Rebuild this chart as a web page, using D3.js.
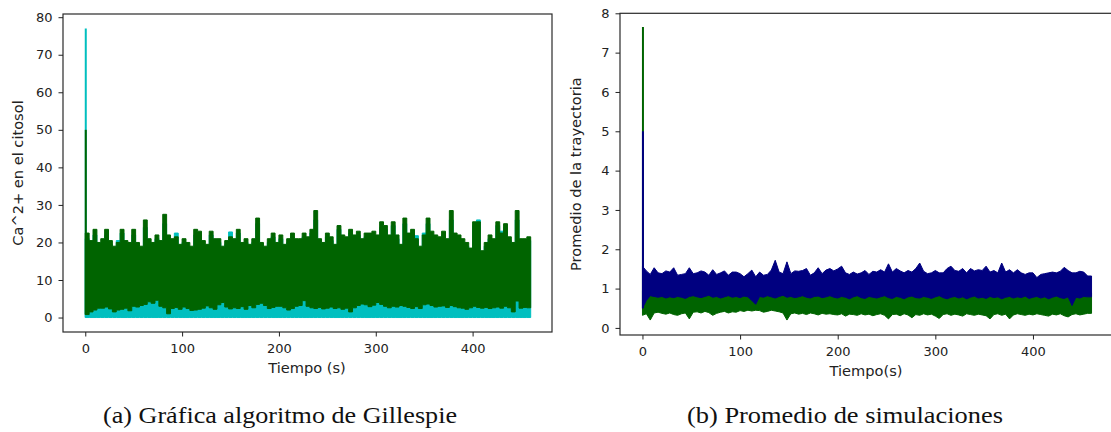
<!DOCTYPE html>
<html>
<head>
<meta charset="utf-8">
<script src="https://cdn.jsdelivr.net/npm/d3@7"></script>
<style>
  body { margin: 0; background: #fff; }
  svg { display: block; }
  .tick text { font-family: "DejaVu Sans", sans-serif; font-size: 13px; fill: #222; }
  .tick line { stroke: #222; }
  .lbl { font-family: "DejaVu Sans", sans-serif; font-size: 14.6px; fill: #222; }
  .cap { font-family: "Liberation Serif", serif; font-size: 23px; fill: #111; }
</style>
</head>
<body>
<svg width="1111" height="432"></svg>
<script>
const binStep = 4
const tEnd = 460

// (a) Gillespie: top / bottom of the dark green trace, top of the cyan trace
const gilGreenHi = [22.5,20.5,23.5,20,21,23.5,20.5,19,20,23.5,
  20.5,20,23.5,20,19,26,21,20,22,20.5,
  27.5,22,21,21.5,19.5,21,20,19,23.5,23,
  20.5,19.5,23,21,21,19,20.5,21.5,21,23.5,
  20,21,19.5,21,26.5,20,19,21,22.5,20,
  22,19.5,21,22.5,21,21,22.5,21.5,23.5,28.5,
  21,20,22.5,21.5,19.5,24.5,22,21.5,23.5,22,
  23,21,22.5,22.5,23,22,25.5,24.5,22,25.5,
  22,19.5,26.5,22.5,23.5,21,19,22,26.5,23,
  22,21.5,23,21,28.5,22.5,22,21,20,18.5,
  25.5,25.5,17.8,20,22,21,25.5,22.5,25,21.5,
  20,28.5,21,21,21.5]
const gilGreenLo = [0.8,1.5,2,2.5,2.5,2.8,2.3,1.5,2,2.2,
  2.5,1.8,3,2.8,3.2,3.5,4.2,3.8,4.6,3,
  2.6,1,2.4,2.7,2.2,2.8,2.4,1.9,2,2.2,
  2.5,3.1,2.6,2.2,3.4,4,2.8,2.3,2.6,2.4,
  2.9,2.2,3.2,2.6,3.5,3.8,3.2,2.4,2.7,3,
  3,2.6,2,2.4,3,3.2,4.5,3,2.6,2.4,
  2.7,2.3,2.5,2.8,2.4,2.6,2.2,2.5,1.5,2.6,
  3.2,3.6,3.4,2.9,3.3,4,3.5,3,2.6,3,
  2.8,3.2,3,2.7,2.4,2.9,2.4,3.4,3.6,3.2,
  2.8,3,3.1,2.7,3.2,2.9,2.6,2.5,2.2,2.6,
  3,2.7,2.5,2.7,2.4,2.6,2.8,2.5,3,2.6,
  1.5,4.4,2.5,2.7,2.6]
const gilCyanHi = [21,19.5,22,19,20,22,19.5,18,20.5,22.5,
  19.5,19,22,19,18,24,20,19,21,19.5,
  25,21,20,22.5,18.5,20,19,18,22,22,
  19.5,18.5,22,20,20,18,19.5,22.8,20,22.5,
  19,20,18.5,20,25,19,18,20,21.5,19,
  21,18.5,20,21.5,20,20,21.5,20.5,22.5,26,
  20,19,21.5,20.5,18.5,23.5,21,20.5,22.5,21,
  22,20,21.5,21.5,22,21,24,23.5,21,24.5,
  21,18.5,25,21.5,22.5,21.8,18,22.5,25,22,
  21,20.5,22,20,26,21.5,21,20,19,17.5,
  24.5,26,17,19,21,20,24.5,23,24,20.5,
  19,26,20,20,20.5]
const gilCyanLo = 0
// first instant: transient peaks
const gilPeaks = { cyan: 77, green: 50 }

// (b) mean of simulations: navy band and green band
const avgBlueHi = [1.57,1.45,1.36,1.53,1.4,1.38,1.45,1.42,1.53,1.34,
  1.36,1.38,1.53,1.38,1.4,1.45,1.42,1.34,1.48,1.36,
  1.4,1.45,1.34,1.42,1.42,1.38,1.3,1.38,1.47,1.3,
  1.42,1.34,1.36,1.47,1.72,1.42,1.38,1.68,1.38,1.45,
  1.44,1.46,1.51,1.34,1.4,1.53,1.38,1.47,1.51,1.45,
  1.5,1.57,1.4,1.36,1.42,1.37,1.4,1.46,1.36,1.44,
  1.42,1.48,1.42,1.63,1.42,1.51,1.45,1.4,1.46,1.42,
  1.51,1.65,1.44,1.38,1.4,1.46,1.4,1.4,1.51,1.57,
  1.46,1.44,1.51,1.4,1.51,1.45,1.48,1.46,1.57,1.42,
  1.46,1.4,1.65,1.42,1.48,1.4,1.48,1.4,1.36,1.4,
  1.4,1.28,1.36,1.38,1.4,1.42,1.4,1.44,1.54,1.46,
  1.4,1.4,1.44,1.42,1.32]
const avgBlueLo = [0.5,0.7,0.82,0.8,0.78,0.8,0.76,0.79,0.77,0.8,
  0.78,0.75,0.8,0.82,0.79,0.77,0.8,0.83,0.78,0.8,
  0.76,0.79,0.82,0.78,0.8,0.77,0.81,0.79,0.7,0.6,
  0.8,0.78,0.82,0.79,0.76,0.8,0.83,0.78,0.8,0.77,
  0.79,0.82,0.78,0.76,0.8,0.81,0.77,0.79,0.82,0.78,
  0.76,0.8,0.78,0.74,0.79,0.82,0.77,0.75,0.8,0.78,
  0.76,0.79,0.82,0.77,0.75,0.8,0.78,0.74,0.79,0.81,
  0.77,0.76,0.8,0.78,0.75,0.79,0.82,0.77,0.74,0.78,
  0.8,0.76,0.79,0.74,0.78,0.81,0.76,0.78,0.75,0.8,
  0.77,0.79,0.74,0.78,0.8,0.76,0.79,0.77,0.81,0.75,
  0.78,0.8,0.76,0.79,0.74,0.78,0.81,0.77,0.75,0.79,
  0.57,0.78,0.76,0.8,0.79]
const avgGreenHi = [0.95,0.9,0.88,0.92,0.86,0.9,0.87,0.91,0.89,0.86,
  0.9,0.88,0.92,0.87,0.9,0.93,0.88,0.91,0.86,0.9,
  0.92,0.89,0.87,0.91,0.88,0.9,0.93,0.89,0.86,0.9,
  0.91,0.88,0.9,0.87,0.92,0.89,0.86,0.9,0.93,0.88,
  0.9,0.87,0.91,0.89,0.86,0.92,0.88,0.9,0.87,0.91,
  0.88,0.9,0.86,0.92,0.89,0.87,0.91,0.88,0.9,0.86,
  0.89,0.92,0.87,0.9,0.88,0.91,0.86,0.9,0.93,0.88,
  0.9,0.87,0.91,0.89,0.86,0.92,0.88,0.9,0.87,0.91,
  0.88,0.9,0.86,0.92,0.89,0.87,0.91,0.88,0.9,0.86,
  0.89,0.92,0.87,0.9,0.88,0.91,0.86,0.9,0.93,0.88,
  0.9,0.87,0.91,0.89,0.86,0.92,0.88,0.9,0.87,0.91,
  0.88,0.9,0.86,0.92,0.89]
const avgGreenLo = [0.32,0.36,0.2,0.38,0.4,0.37,0.35,0.38,0.34,0.32,
  0.36,0.38,0.23,0.4,0.41,0.38,0.42,0.39,0.32,0.37,
  0.4,0.42,0.38,0.41,0.4,0.44,0.42,0.45,0.43,0.45,
  0.44,0.4,0.42,0.45,0.43,0.41,0.38,0.2,0.36,0.38,
  0.35,0.37,0.34,0.38,0.36,0.33,0.37,0.35,0.36,0.34,
  0.33,0.36,0.3,0.35,0.34,0.32,0.36,0.33,0.35,0.31,
  0.34,0.36,0.32,0.23,0.34,0.35,0.31,0.36,0.33,0.26,
  0.34,0.32,0.36,0.33,0.35,0.3,0.24,0.34,0.36,0.32,
  0.35,0.33,0.3,0.36,0.34,0.32,0.35,0.33,0.31,0.23,
  0.34,0.36,0.32,0.35,0.23,0.33,0.36,0.34,0.32,0.35,
  0.33,0.36,0.34,0.32,0.3,0.35,0.33,0.36,0.31,0.28,
  0.34,0.36,0.33,0.35,0.37]
const avgPeaks = { green: 7.65, blue: 5.0, base: 0.5 }

const xTicks = [0, 100, 200, 300, 400]
const yTicksA = [0, 10, 20, 30, 40, 50, 60, 70, 80]
const yTicksB = [0, 1, 2, 3, 4, 5, 6, 7, 8]

const colCyan = '#00bfbf'
const colGreen = '#006400'
const colNavy = '#000080'

const svg = d3.select('svg')

// pair hi/lo arrays into rows, repeating the last bin at the end time
function rows(hi, lo) {
    const r = hi.map((v, i) => ({ t: i * binStep, hi: v, lo: Array.isArray(lo) ? lo[i] : lo }))
    r.push({ t: tEnd, hi: hi[hi.length - 1], lo: Array.isArray(lo) ? lo[lo.length - 1] : lo })
    return r
}

function panel(opt) {
    const x = d3.scaleLinear().domain(opt.xDomain).range([opt.left, opt.right])
    const y = d3.scaleLinear().domain(opt.yDomain).range([opt.bottom, opt.top])
    const g = svg.append('g')

    const area = d3.area()
        .curve(opt.curve)
        .x(d => x(d.t))
        .y0(d => y(d.lo))
        .y1(d => y(d.hi))

    opt.series.forEach(s => {
        const data = rows(s.hi, s.lo)
        g.append('path')
            .datum(data)
            .attr('d', area)
            .attr('fill', s.color)
            .attr('stroke', s.color)
            .attr('stroke-width', 1)
            .attr('stroke-linejoin', 'miter')
        // starting transient
        g.append('line')
            .attr('x1', x(0) + 0.5).attr('x2', x(0) + 0.5)
            .attr('y1', y(s.peakBase)).attr('y2', y(s.peak))
            .attr('stroke', s.color)
            .attr('stroke-width', 2)
    })

    // frame
    g.append('rect')
        .attr('x', opt.left).attr('y', opt.top)
        .attr('width', opt.right - opt.left).attr('height', opt.bottom - opt.top)
        .attr('fill', 'none').attr('stroke', '#2a2a2a').attr('stroke-width', 1.2)

    const xa = g.append('g')
        .attr('transform', `translate(0,${opt.bottom})`)
        .call(d3.axisBottom(x).tickValues(xTicks).tickSize(4.5).tickPadding(5).tickSizeOuter(0))
    const ya = g.append('g')
        .attr('transform', `translate(${opt.left},0)`)
        .call(d3.axisLeft(y).tickValues(opt.yTicks).tickSize(4.5).tickPadding(6).tickSizeOuter(0))
    xa.select('.domain').remove()
    ya.select('.domain').remove()
    xa.selectAll('text').attr('dy', '0.85em')

    g.append('text').attr('class', 'lbl')
        .attr('x', opt.xLabelX).attr('y', opt.xLabelY)
        .attr('text-anchor', 'middle')
        .text(opt.xLabel)
    g.append('text').attr('class', 'lbl')
        .attr('transform', `translate(${opt.yLabelX},${(opt.top + opt.bottom) / 2}) rotate(-90)`)
        .attr('text-anchor', 'middle')
        .text(opt.yLabel)
    g.append('text').attr('class', 'cap')
        .attr('x', opt.capX).attr('y', 423)
        .attr('text-anchor', 'middle')
        .attr('textLength', opt.capW)
        .attr('lengthAdjust', 'spacingAndGlyphs')
        .text(opt.caption)
}

panel({
    left: 63, right: 552, top: 14, bottom: 332,
    xDomain: [-23, 482], yDomain: [-3.85, 80.85],
    yTicks: yTicksA,
    curve: d3.curveStepAfter,
    series: [
        { hi: gilCyanHi, lo: gilCyanLo, color: colCyan, peak: gilPeaks.cyan, peakBase: gilCyanLo },
        { hi: gilGreenHi, lo: gilGreenLo, color: colGreen, peak: gilPeaks.green, peakBase: gilGreenLo[0] }
    ],
    xLabel: 'Tiempo (s)', xLabelX: 307, xLabelY: 373,
    yLabel: 'Ca^2+ en el citosol', yLabelX: 23,
    caption: '(a) Gráfica algoritmo de Gillespie', capX: 280, capW: 354
})

panel({
    left: 620, right: 1114, top: 13.3, bottom: 335,
    xDomain: [-23, 483], yDomain: [-0.18, 8.0],
    yTicks: yTicksB,
    curve: d3.curveLinear,
    series: [
        { hi: avgGreenHi, lo: avgGreenLo, color: colGreen, peak: avgPeaks.green, peakBase: avgPeaks.base },
        { hi: avgBlueHi, lo: avgBlueLo, color: colNavy, peak: avgPeaks.blue, peakBase: avgPeaks.base }
    ],
    xLabel: 'Tiempo(s)', xLabelX: 866, xLabelY: 376,
    yLabel: 'Promedio de la trayectoria', yLabelX: 581,
    caption: '(b) Promedio de simulaciones', capX: 845, capW: 316
})
</script>
</body>
</html>
